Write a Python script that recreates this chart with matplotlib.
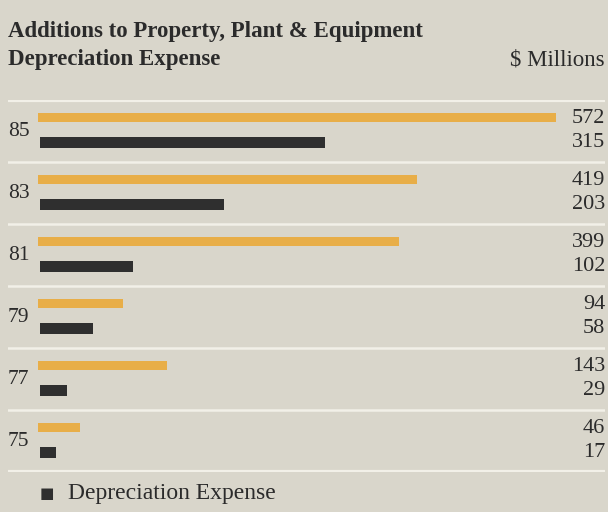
import numpy as np
import matplotlib.pyplot as plt
from matplotlib.transforms import blended_transform_factory

# PP&E additions and depreciation, $ millions
years = ["85", "83", "81", "79", "77", "75"]
additions = [572, 419, 399, 94, 143, 46]
depreciation = [315, 203, 102, 58, 29, 17]

bg = "#d9d6cb"
orange = "#e8ae48"
dark = "#2f2f2f"
txt = "#2b2b2b"
rule = "#f2f0e8"

plt.rcParams["font.family"] = ["Liberation Serif", "DejaVu Serif"]

fig = plt.figure(figsize=(6.08, 5.12), dpi=100, facecolor=bg)
W, H = 608, 512

# axes spans the ruled area: x 8..605 px, y 100..472 px
ax = fig.add_axes([8 / W, (H - 472) / H, 597 / W, 372 / H])
ax.set_facecolor(bg)
px_per_unit = 0.905
x0 = 30 / px_per_unit
ax.set_xlim(-x0, 597 / px_per_unit - x0)
ax.set_ylim(len(years), 0)
ax.axis("off")

rows = np.arange(len(years))
ax.barh(rows + 0.285, additions, height=0.15, left=0, color=orange)
ax.barh(rows + 0.69, depreciation, height=0.18, left=2.5, color=dark)

# separators
for i in range(len(years) + 1):
    lw = 3 if i in (0, len(years)) else 1.8
    ax.axhline(i, color=rule, lw=lw, xmin=0, xmax=1)

tr = blended_transform_factory(ax.transAxes, ax.transData)
for i, yr in enumerate(years):
    ax.text(0, i + 0.5, yr, transform=tr, ha="left", va="center",
            fontsize=15.5, color=txt)
    ax.text(1, i + 0.3, str(additions[i]), transform=tr, ha="right",
            va="center", fontsize=16, color=txt)
    ax.text(1, i + 0.69, str(depreciation[i]), transform=tr, ha="right",
            va="center", fontsize=16, color=txt)

# header
fig.text(8 / W, 1 - 31 / H, "Additions to Property, Plant & Equipment",
         ha="left", va="center", fontsize=16.5, fontweight="bold", color=txt)
fig.text(8 / W, 1 - 60 / H, "Depreciation Expense",
         ha="left", va="center", fontsize=16.5, fontweight="bold", color=txt)
fig.text(605 / W, 1 - 60 / H, "$ Millions",
         ha="right", va="center", fontsize=16.5, color=txt)

# legend
fig.text(40 / W, 1 - 493 / H, "\u25a0", ha="left", va="center",
         fontsize=11, color=dark, family="DejaVu Sans")
fig.text(68 / W, 1 - 493 / H, "Depreciation Expense", ha="left",
         va="center", fontsize=17, color=txt)

fig.savefig("out.png", dpi=100, facecolor=bg)
